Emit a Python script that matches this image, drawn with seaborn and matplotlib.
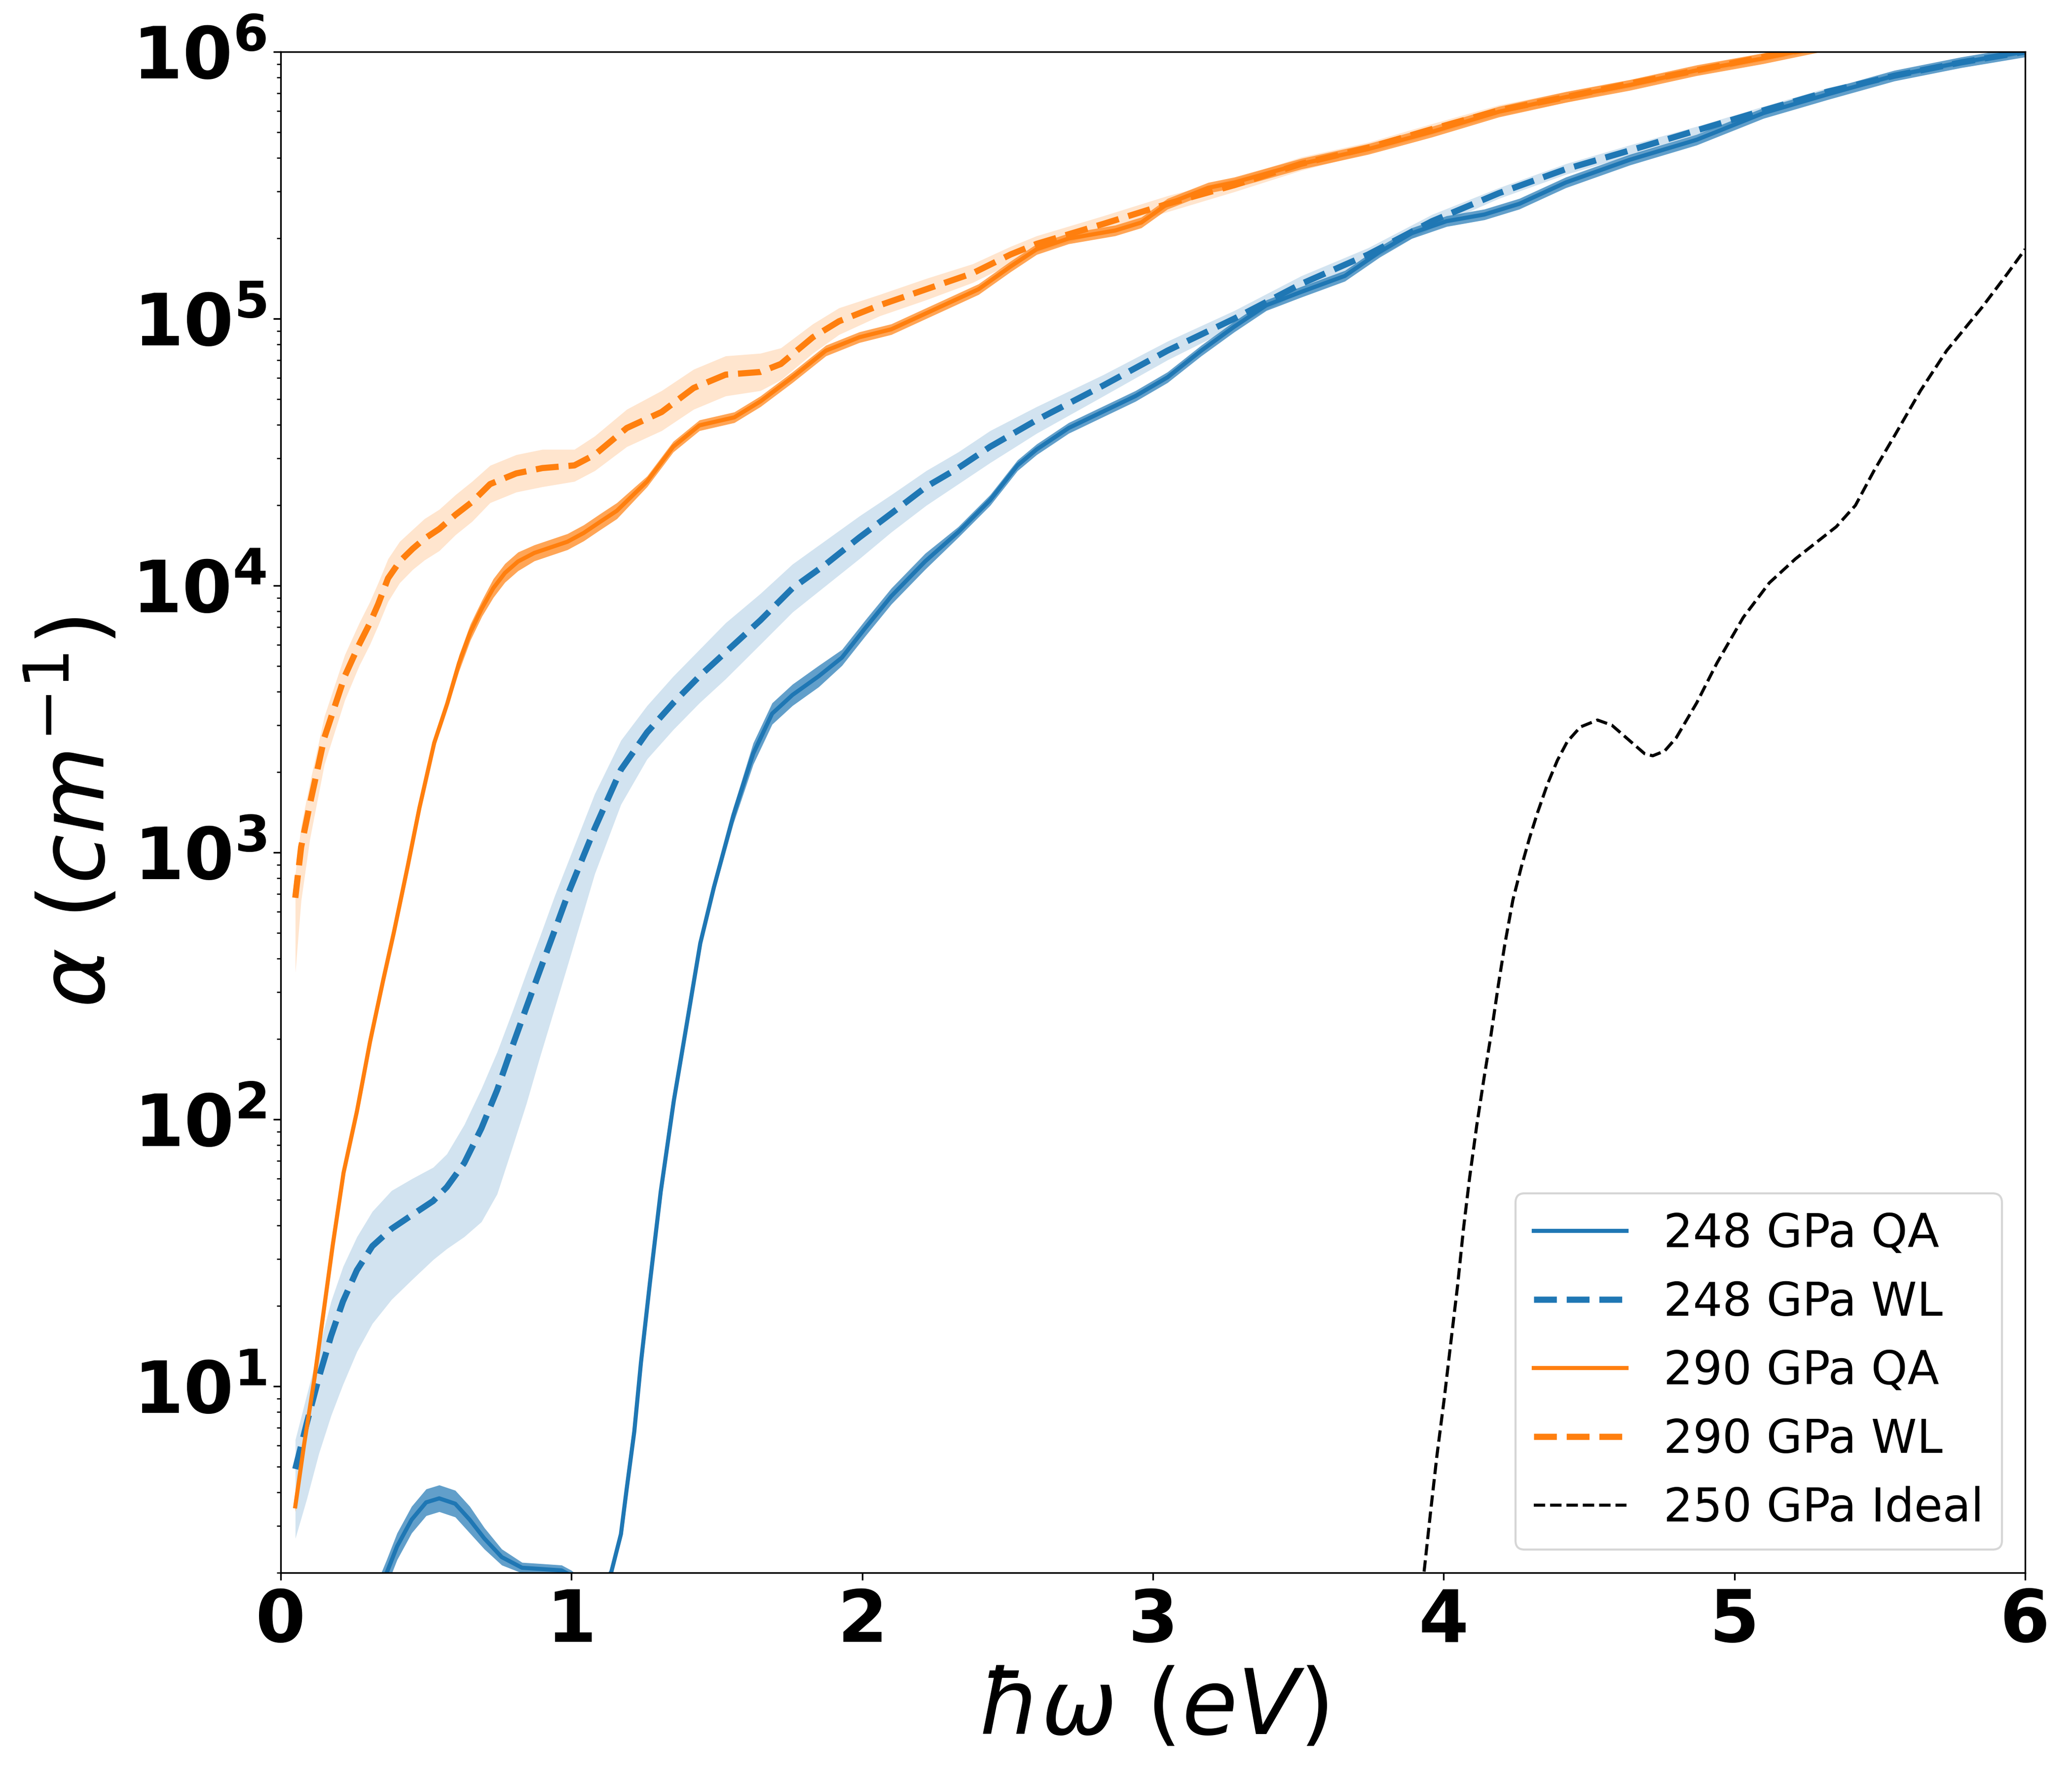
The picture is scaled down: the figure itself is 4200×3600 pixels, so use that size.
import numpy as np
import matplotlib
matplotlib.use("Agg")
import matplotlib.pyplot as plt
import seaborn as sns

# ── data (log10 of alpha) ─────────────────────────────────────────────────────
x_248_qa = [0.25, 0.364, 0.40, 0.45, 0.50, 0.545, 0.60, 0.65, 0.70, 0.76, 0.83, 0.90,
            0.966, 1.00, 1.05, 1.10, 1.136, 1.17, 1.19, 1.216, 1.239, 1.27, 1.307,
            1.352, 1.40, 1.443, 1.49, 1.557, 1.625, 1.69, 1.76, 1.85, 1.93, 2.01,
            2.10, 2.216, 2.33, 2.44, 2.534, 2.60, 2.71, 2.825, 2.94, 3.05, 3.166,
            3.28, 3.39, 3.51, 3.66, 3.78, 3.89, 4.01, 4.14, 4.26, 4.42, 4.64, 4.87,
            5.10, 5.32, 5.55, 5.78, 6.00]
log_248_qa = [0.00, 0.30, 0.40, 0.50, 0.565, 0.58, 0.56, 0.50, 0.43, 0.36, 0.32, 0.315,
              0.31, 0.29, 0.24, 0.24, 0.30, 0.446, 0.617, 0.83, 1.09, 1.39, 1.73,
              2.07, 2.38, 2.66, 2.87, 3.14, 3.37, 3.52, 3.59, 3.66, 3.73, 3.84,
              3.96, 4.09, 4.20, 4.32, 4.45, 4.51, 4.59, 4.65, 4.71, 4.78, 4.88,
              4.97, 5.05, 5.10, 5.16, 5.25, 5.32, 5.365, 5.39, 5.43, 5.51, 5.595, 5.67,
              5.77, 5.84, 5.91, 5.96, 6.00]
spread_248_qa = [0.05, 0.05, 0.05, 0.05, 0.05, 0.05, 0.05, 0.05, 0.04, 0.03, 0.02, 0.02,
                 0.02, 0.02, 0.02, 0.02, 0.02, 0.02, 0.02, 0.02, 0.02, 0.02, 0.02,
                 0.02, 0.02, 0.02, 0.02, 0.03, 0.04, 0.04, 0.04, 0.04, 0.03, 0.03,
                 0.03, 0.03, 0.02, 0.02, 0.02, 0.02, 0.02, 0.02, 0.02, 0.02, 0.02,
                 0.02, 0.02, 0.02, 0.02, 0.02, 0.02, 0.02, 0.02, 0.02, 0.02, 0.02, 0.02,
                 0.02, 0.02, 0.02, 0.02, 0.02]

x_248_wl = [0.05, 0.09, 0.131, 0.173, 0.214, 0.262, 0.315, 0.381, 0.452, 0.524, 0.571,
            0.631, 0.69, 0.744, 0.798, 0.845, 0.893, 0.943, 0.99, 1.08, 1.17, 1.26,
            1.35, 1.44, 1.53, 1.65, 1.76, 1.875, 1.99, 2.10, 2.22, 2.33, 2.44, 2.60,
            2.83, 3.05, 3.28, 3.51, 3.74, 3.96, 4.19, 4.42, 4.64, 4.87, 5.10, 5.32,
            5.55, 5.78, 6.00]
log_248_wl = [0.69, 0.864, 1.033, 1.188, 1.318, 1.435, 1.525, 1.59, 1.642, 1.694, 1.746,
              1.836, 1.966, 2.109, 2.278, 2.42, 2.563, 2.71, 2.85, 3.09, 3.31, 3.45,
              3.56, 3.66, 3.75, 3.87, 3.99, 4.08, 4.18, 4.27, 4.37, 4.44, 4.52, 4.62,
              4.75, 4.88, 5.00, 5.13, 5.24, 5.365, 5.47, 5.56, 5.63, 5.705, 5.78, 5.85,
              5.91, 5.96, 6.00]
lo_248_wl = [0.43, 0.58, 0.748, 0.89, 1.007, 1.13, 1.235, 1.325, 1.40, 1.474, 1.515,
             1.56, 1.616, 1.72, 1.90, 2.06, 2.24, 2.42, 2.59, 2.92, 3.18, 3.35,
             3.46, 3.56, 3.65, 3.78, 3.90, 4.00, 4.10, 4.20, 4.30, 4.38, 4.46, 4.57,
             4.71, 4.845, 4.97, 5.10, 5.215, 5.34, 5.45, 5.54, 5.61, 5.69, 5.765, 5.835,
             5.90, 5.95, 5.99]
hi_248_wl = [0.80, 0.97, 1.14, 1.318, 1.448, 1.56, 1.655, 1.733, 1.778, 1.82, 1.87,
             1.98, 2.115, 2.252, 2.408, 2.55, 2.69, 2.84, 2.97, 3.22, 3.42, 3.55,
             3.66, 3.76, 3.86, 3.97, 4.08, 4.17, 4.26, 4.34, 4.43, 4.50, 4.58, 4.67,
             4.79, 4.915, 5.03, 5.16, 5.265, 5.39, 5.49, 5.58, 5.65, 5.72, 5.795, 5.865,
             5.92, 5.97, 6.01]

x_290_qa = [0.05, 0.08, 0.116, 0.15, 0.179, 0.216, 0.262, 0.307, 0.352, 0.389, 0.437,
            0.477, 0.528, 0.573, 0.613, 0.652, 0.692, 0.731, 0.771, 0.816, 0.872, 0.929,
            0.986, 1.042, 1.099, 1.156, 1.26, 1.35, 1.44, 1.56, 1.65, 1.76, 1.875, 1.99,
            2.10, 2.26, 2.40, 2.51, 2.60, 2.71, 2.87, 2.96, 3.05, 3.19, 3.28, 3.51, 3.74,
            3.96, 4.19, 4.42, 4.64, 4.87, 5.10, 5.30]
log_290_qa = [0.55, 0.78, 1.03, 1.30, 1.53, 1.80, 2.03, 2.29, 2.52, 2.70, 2.95,
              3.167, 3.411, 3.559, 3.709, 3.825, 3.915, 3.99, 4.047, 4.09, 4.122, 4.143,
              4.164, 4.197, 4.239, 4.28, 4.39, 4.52, 4.60, 4.63, 4.69, 4.78, 4.88, 4.93,
              4.96, 5.04, 5.11, 5.195, 5.26, 5.30, 5.33, 5.36, 5.43, 5.49, 5.51, 5.58, 5.635,
              5.70, 5.775, 5.83, 5.875, 5.93, 5.975, 6.02]
spread_290_qa = [0.02, 0.02, 0.02, 0.02, 0.02, 0.02, 0.02, 0.02, 0.02, 0.02, 0.02,
                 0.02, 0.02, 0.02, 0.03, 0.03, 0.03, 0.035, 0.035, 0.035, 0.03, 0.03,
                 0.03, 0.03, 0.03, 0.03, 0.02, 0.02, 0.02, 0.02, 0.02, 0.02, 0.02, 0.02,
                 0.02, 0.02, 0.02, 0.02, 0.02, 0.02, 0.02, 0.02, 0.02, 0.02, 0.02, 0.02, 0.02,
                 0.02, 0.02, 0.02, 0.02, 0.02, 0.02, 0.02]

x_290_wl = [0.05, 0.07, 0.10, 0.15, 0.22, 0.27, 0.307, 0.335, 0.369, 0.409, 0.454, 0.494,
            0.545, 0.601, 0.658, 0.72, 0.81, 0.90, 1.01, 1.08, 1.19, 1.31, 1.42, 1.53,
            1.65, 1.72, 1.83, 1.92, 2.06, 2.22, 2.38, 2.51, 2.60, 2.83, 3.05, 3.28, 3.51,
            3.74, 3.96, 4.19, 4.42, 4.64, 4.87, 5.10, 5.30]
log_290_wl = [2.83, 3.02, 3.18, 3.43, 3.66, 3.78, 3.86, 3.93, 4.027, 4.09, 4.138, 4.175,
              4.212, 4.265, 4.313, 4.38, 4.42, 4.44, 4.45, 4.49, 4.59, 4.65, 4.74, 4.79,
              4.80, 4.83, 4.93, 4.99, 5.05, 5.11, 5.17, 5.24, 5.28, 5.355, 5.43, 5.50, 5.58,
              5.64, 5.71, 5.78, 5.83, 5.88, 5.93, 5.98, 6.02]
lo_290_wl = [2.55, 2.82, 3.05, 3.33, 3.57, 3.70, 3.78, 3.85, 3.94, 4.01, 4.06, 4.095,
             4.13, 4.19, 4.24, 4.31, 4.35, 4.37, 4.39, 4.43, 4.52, 4.58, 4.66, 4.71,
             4.73, 4.77, 4.87, 4.94, 5.01, 5.07, 5.135, 5.205, 5.25, 5.325, 5.40, 5.475, 5.555,
             5.62, 5.69, 5.76, 5.81, 5.865, 5.915, 5.965, 6.005]
hi_290_wl = [2.92, 3.10, 3.26, 3.51, 3.74, 3.86, 3.94, 4.01, 4.10, 4.165, 4.21, 4.25,
             4.285, 4.34, 4.39, 4.45, 4.49, 4.51, 4.51, 4.56, 4.66, 4.73, 4.81, 4.86,
             4.87, 4.89, 4.98, 5.04, 5.09, 5.15, 5.205, 5.27, 5.31, 5.385, 5.46, 5.525, 5.605,
             5.66, 5.73, 5.80, 5.85, 5.895, 5.945, 5.995, 6.035]

x_ideal = [3.85, 3.932, 3.955, 3.977, 4.002, 4.025, 4.048, 4.068, 4.089, 4.114, 4.138,
           4.162, 4.188, 4.21, 4.238, 4.267, 4.295, 4.323, 4.357, 4.391, 4.425, 4.47,
           4.529, 4.578, 4.634, 4.691, 4.719, 4.76, 4.80, 4.87, 4.94, 5.03, 5.12, 5.21,
           5.35, 5.416, 5.48, 5.55, 5.64, 5.73, 5.85, 5.94, 6.00]
log_ideal = [-0.30, 0.30, 0.53, 0.743, 0.955, 1.168, 1.38, 1.59, 1.78, 1.98, 2.15,
             2.311, 2.504, 2.654, 2.822, 2.946, 3.053, 3.15, 3.256, 3.345, 3.415, 3.47,
             3.496, 3.477, 3.424, 3.37, 3.362, 3.38, 3.43, 3.56, 3.71, 3.88, 4.01, 4.10,
             4.22, 4.30, 4.43, 4.56, 4.73, 4.88, 5.04, 5.17, 5.26]

labels = ["248 GPa QA", "248 GPa WL", "290 GPa QA", "290 GPa WL", "250 GPa Ideal"]


def a(v):
    return 10.0 ** np.asarray(v, dtype=float)


# ── figure ────────────────────────────────────────────────────────────────────
fig = plt.figure(figsize=(14, 12), dpi=300)
ax = fig.add_axes([0.1355, 0.1144, 0.8419, 0.8565])
ax.set_yscale("log")

# uncertainty bands
ax.fill_between(x_248_wl, a(lo_248_wl), a(hi_248_wl), color="C0", alpha=0.2, lw=0)
ax.fill_between(x_290_wl, a(lo_290_wl), a(hi_290_wl), color="C1", alpha=0.2, lw=0)
ax.fill_between(x_248_qa, a(np.array(log_248_qa) - spread_248_qa),
                a(np.array(log_248_qa) + spread_248_qa), color="C0", alpha=0.7, lw=0)
ax.fill_between(x_290_qa, a(np.array(log_290_qa) - spread_290_qa),
                a(np.array(log_290_qa) + spread_290_qa), color="C1", alpha=0.7, lw=0)

# curves
sns.lineplot(x=x_248_qa, y=a(log_248_qa), ax=ax, color="C0", lw=2, sort=False)
sns.lineplot(x=x_248_wl, y=a(log_248_wl), ax=ax, color="C0", lw=3, ls="--", sort=False)
sns.lineplot(x=x_290_qa, y=a(log_290_qa), ax=ax, color="C1", lw=2, sort=False)
sns.lineplot(x=x_290_wl, y=a(log_290_wl), ax=ax, color="C1", lw=3, ls="--", sort=False)
sns.lineplot(x=x_ideal, y=a(log_ideal), ax=ax, color="black", lw=1.5, ls="--", sort=False)

ax.set_xlim(0, 6)
ax.set_ylim(2, 1e6)
ax.set_xticks([0, 1, 2, 3, 4, 5, 6])
ax.set_yticks([1e1, 1e2, 1e3, 1e4, 1e5, 1e6])
ax.tick_params(labelsize=35)
for lab in ax.get_xticklabels() + ax.get_yticklabels():
    lab.set_fontweight("bold")

ax.set_xlabel(r"$\hbar\omega\ (eV)$", fontsize=44)
ax.set_ylabel(r"$\alpha\ (cm^{-1})$", fontsize=44)

handles = ax.get_lines()[:5]
ax.legend(handles, labels, loc="lower right", fontsize=22.5)

fig.savefig("out.png", dpi=300)
